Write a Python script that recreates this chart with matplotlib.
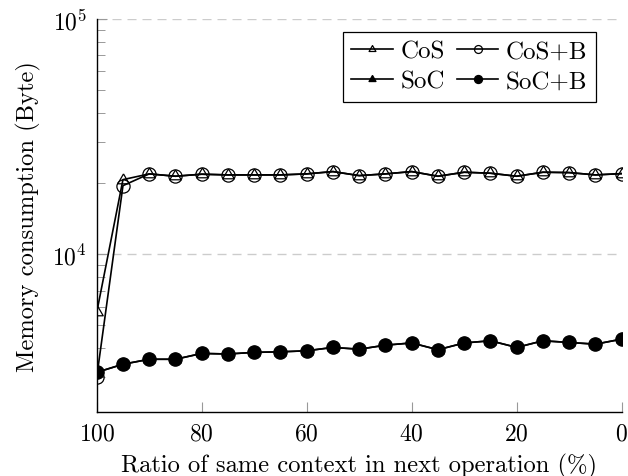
import numpy as np
import matplotlib
matplotlib.use("Agg")
import matplotlib.pyplot as plt
from matplotlib.ticker import LogLocator, NullFormatter

plt.rcParams["font.family"] = "serif"
plt.rcParams["font.serif"] = ["cmr10"]
plt.rcParams["mathtext.fontset"] = "cm"
plt.rcParams["axes.formatter.use_mathtext"] = True

# data
ratio = [100, 95, 90, 85, 80, 75, 70, 65, 60, 55, 50,
         45, 40, 35, 30, 25, 20, 15, 10, 5, 0]
cos = [5660, 20770, 21970, 21470, 21900, 21750, 21750, 21750, 21970, 22470, 21600,
       21970, 22470, 21470, 22330, 22110, 21470, 22330, 22250, 21750, 22030]
cos_b = [3000, 19580, 21970, 21470, 21900, 21750, 21750, 21750, 21970, 22470, 21600,
         21970, 22470, 21470, 22330, 22110, 21470, 22330, 22250, 21750, 22030]
soc = [3150, 3410, 3580, 3580, 3790, 3770, 3830, 3850, 3890, 4020, 3950,
       4110, 4200, 3930, 4200, 4290, 4020, 4290, 4220, 4150, 4360]
soc_b = [3150, 3410, 3580, 3580, 3790, 3770, 3830, 3850, 3890, 4020, 3950,
         4110, 4200, 3930, 4200, 4290, 4020, 4290, 4220, 4150, 4360]

# triangle inscribed in the circle, like pgfplots marks
tri = [(0, 1), (-0.866, -0.5), (0.866, -0.5), (0, 1)]

fig = plt.figure(figsize=(6.28, 4.77), dpi=100)
ax = fig.add_axes([0.154, 0.1335, 0.836, 0.8245])

lw = 1.2
ms = 9.5
h1, = ax.plot(ratio, cos, color="black", lw=lw, marker=tri, ms=ms,
              mfc="none", mec="black", mew=0.9, label="CoS")
h2, = ax.plot(ratio, cos_b, color="black", lw=lw, marker="o", ms=ms,
              mfc="none", mec="black", mew=0.9, label="CoS+B")
h3, = ax.plot(ratio, soc, color="black", lw=lw, marker=tri, ms=ms,
              mfc="black", mec="black", label="SoC")
h4, = ax.plot(ratio, soc_b, color="black", lw=lw, marker="o", ms=ms,
              mfc="black", mec="black", label="SoC+B")

ax.set_yscale("log")
ax.set_xlim(100, 0)
ax.set_ylim(2130, 1e5)
ax.set_xticks([100, 80, 60, 40, 20, 0])
ax.yaxis.set_major_locator(LogLocator(base=10))
ax.yaxis.set_minor_locator(LogLocator(base=10, subs=np.arange(2, 10)))
ax.yaxis.set_minor_formatter(NullFormatter())

ax.grid(True, axis="y", which="major", color="#cccccc", lw=1.0,
        linestyle=(0, (6.5, 4.3)))
ax.set_axisbelow(True)

for side in ["top", "right"]:
    ax.spines[side].set_visible(False)
for side in ["left", "bottom"]:
    ax.spines[side].set_linewidth(1.0)

ax.tick_params(which="both", direction="in", color="#999999", labelsize=17)
ax.tick_params(which="major", length=7.5, width=0.8, pad=7)
ax.tick_params(which="minor", length=5.5, width=0.7)
ax.tick_params(axis="x", top=False)
ax.tick_params(axis="y", right=False)

ax.set_xlabel("Ratio of same context in next operation (%)", fontsize=17.7, labelpad=6)
ax.set_ylabel("Memory consumption (Byte)", fontsize=17.7, labelpad=8)

leg = fig.legend([h1, h3, h2, h4], ["CoS", "SoC", "CoS+B", "SoC+B"],
                 ncol=2, loc="upper right",
                 bbox_to_anchor=(596 / 628, 1 - 32.7 / 477),
                 bbox_transform=fig.transFigure, borderaxespad=0,
                 fontsize=18, markerscale=0.6, fancybox=False,
                 edgecolor="black", framealpha=1, handlelength=1.65,
                 columnspacing=0.5, handletextpad=0.3, labelspacing=0.3,
                 borderpad=0.35)
leg.get_frame().set_linewidth(0.9)

fig.savefig("out.png", dpi=100)
